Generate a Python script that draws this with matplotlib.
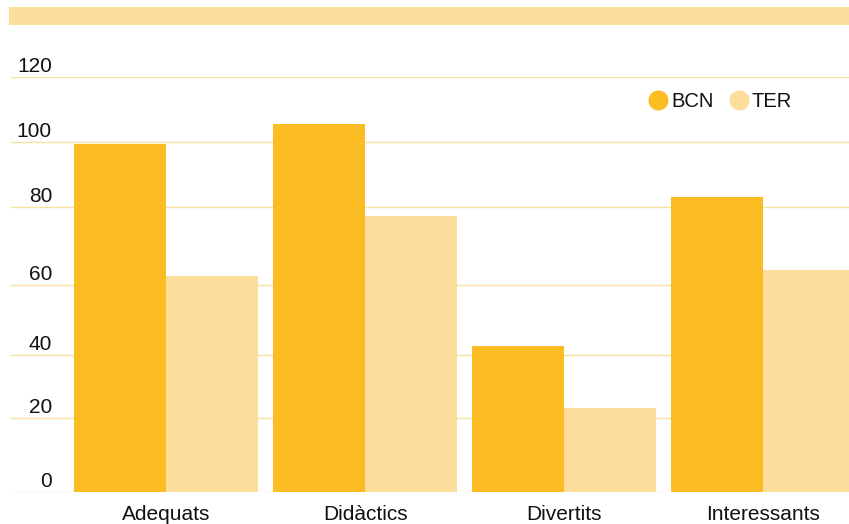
import numpy as np
import matplotlib
matplotlib.use("Agg")
import matplotlib.pyplot as plt
from matplotlib.lines import Line2D
from matplotlib.patches import Rectangle

# Survey answers by region
categories = ["Adequats", "Didàctics", "Divertits", "Interessants"]
bcn = [99.4, 105.5, 42.6, 83.1]
ter = [62.3, 77.7, 23.2, 63.8]
series_names = ["BCN", "TER"]
y_ticks = [0, 20, 40, 60, 80, 100, 120]

# Axis rows are not evenly spaced: height (px) of each gridline above the baseline
row_heights = [0, 74, 137, 207, 285, 350, 415]

BCN_COLOR = "#FBBC24"
TER_COLOR = "#FCDD9B"
GRID_COLOR = "#FCDFA2"
TEXT_COLOR = "#111111"

plt.rcParams["font.family"] = ["Liberation Sans", "DejaVu Sans"]
plt.rcParams["font.size"] = 15

W, H = 849, 524
fig = plt.figure(figsize=(W / 100, H / 100), dpi=100)

# header band
fig.patches.append(Rectangle((9 / W, 1 - 25 / H), 840 / W, 18 / H,
                             transform=fig.transFigure, color=TER_COLOR, lw=0))

ax = fig.add_axes([11 / W, 32 / H, (W - 11) / W, (492 - 77) / H])

# piecewise-linear value axis through the gridline rows
slope = (row_heights[-1] - row_heights[-2]) / (y_ticks[-1] - y_ticks[-2])
xs = np.array([-1e4] + y_ticks + [1e4], dtype=float)
ys = np.array([-1e4 * slope] + row_heights + [row_heights[-1] + (1e4 - y_ticks[-1]) * slope])


def fwd(v):
    return np.interp(v, xs, ys)


def inv(h):
    return np.interp(h, ys, xs)


ax.set_yscale("function", functions=(fwd, inv))

x = np.arange(len(categories))
w = 0.462
ax.bar(x - w / 2, bcn, width=w, color=BCN_COLOR, zorder=3, linewidth=0)
ax.bar(x + w / 2, ter, width=w, color=TER_COLOR, zorder=3, linewidth=0)

ax.set_xlim(-0.78, 3.43)
ax.set_ylim(0, 120)

ax.set_yticks(y_ticks)
ax.set_yticklabels([])
ax.grid(axis="y", color=GRID_COLOR, lw=1.0, zorder=0)
ax.tick_params(axis="y", length=0)
for v in y_ticks:
    ax.annotate(str(v), xy=(0, v), xycoords=("axes fraction", "data"),
                xytext=(41, 5), textcoords="offset pixels",
                ha="right", va="baseline", color=TEXT_COLOR, fontsize=15)

ax.set_xticks(x)
ax.set_xticklabels(categories, color=TEXT_COLOR, fontsize=15)
ax.tick_params(axis="x", length=0, pad=9)

for s in ax.spines.values():
    s.set_visible(False)

handles = [Line2D([], [], marker="o", ls="", markersize=14.4,
                  markerfacecolor=c, markeredgewidth=0)
           for c in (BCN_COLOR, TER_COLOR)]
ax.legend(handles, series_names, ncol=2, frameon=False,
          loc="center left", bbox_to_anchor=(648 / W, 1 - 102 / H),
          bbox_transform=fig.transFigure, borderpad=0, borderaxespad=0,
          handlelength=1.0, handletextpad=0.15, columnspacing=0.75,
          fontsize=14.5, labelcolor=TEXT_COLOR)

fig.savefig("out.png", dpi=100)
